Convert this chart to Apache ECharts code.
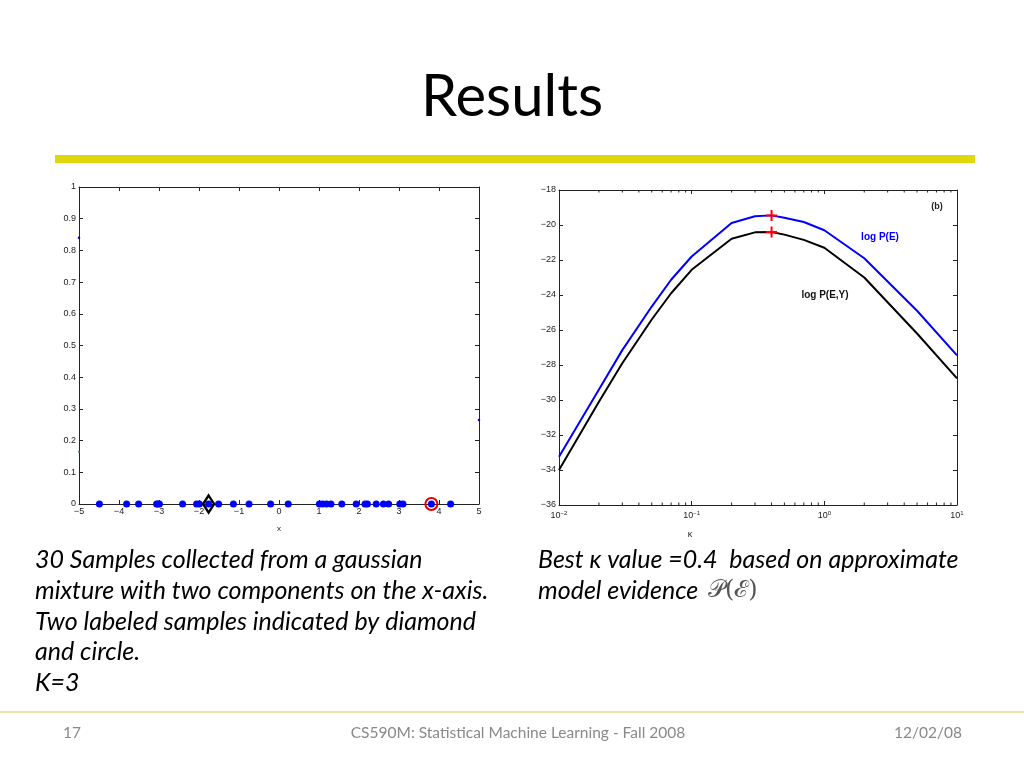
<!DOCTYPE html>
<html><head><meta charset="utf-8">
<script src="https://cdn.jsdelivr.net/npm/echarts@6/dist/echarts.min.js"></script>
<style>html,body{margin:0;padding:0;background:#fff}#c{width:1024px;height:768px}</style>
</head><body><div id="c"></div>
<script>
// ---- data ----
const sampleX = [-4.49,-3.81,-3.51,-3.06,-3.03,-2.99,-2.41,-2.06,-1.99,-1.76,-1.51,-1.14,-0.75,-0.21,0.23,1.01,1.09,1.19,1.30,1.57,1.93,2.15,2.21,2.43,2.61,2.74,3.02,3.10,3.81,4.29];
const diamondX = [-1.76];
const circleX = [3.81];
const residueBlue = [[-5,0.84],[5,0.265]];
const residueGreen = [[-5,0.165]];
const kappa = [0.01,0.02,0.03,0.05,0.07,0.1,0.2,0.3,0.4,0.5,0.7,1,2,5,10];
const logPE  = [-33.24,-29.4,-27.15,-24.66,-23.13,-21.80,-19.89,-19.5,-19.45,-19.58,-19.83,-20.3,-21.9,-24.9,-27.45];
const logPEY = [-34.0,-30.1,-27.9,-25.4,-23.9,-22.56,-20.79,-20.42,-20.4,-20.55,-20.85,-21.3,-23.0,-26.2,-28.76];
const bestKappa = [0.4];
const bestPE = [-19.45];
const bestPEY = [-20.4];
const minorKappa = [0.02,0.03,0.04,0.05,0.06,0.07,0.08,0.09,0.2,0.3,0.4,0.5,0.6,0.7,0.8,0.9,2,3,4,5,6,7,8,9];
const bodyLeft = ['30 Samples collected from a gaussian','mixture with two components on the x-axis.','Two labeled samples indicated by diamond','and circle.','K=3'];
const bodyRight = ['Best \u03ba value =0.4  based on approximate','model evidence '];

// ---- helpers ----
const minus = v => (v < 0 ? '\u2212' + String(Math.abs(+v.toFixed(6))) : String(+v.toFixed(6)));
const lblFont = {color:'#222', fontSize:9, fontFamily:'Liberation Sans'};
const lineCol = '#222';
const chart = echarts.init(document.getElementById('c'));

function boxAxis(base, gridIndex, pos, showLabel, extra) {
  return Object.assign({
    gridIndex, position: pos,
    axisLine:{show:true, onZero:false, lineStyle:{color:lineCol, width:1}},
    axisTick:{show:true, inside:true, length:4, lineStyle:{color:lineCol}},
    splitLine:{show:false},
    axisLabel: showLabel ? Object.assign({formatter: minus, margin:3}, lblFont) : {show:false}
  }, base, extra || {});
}

const option = {
  backgroundColor:'#fff',
  animation:false,
  grid:[
    {left:79, top:187, width:400, height:317},
    {left:559, top:190, width:398, height:315}
  ],
  xAxis:[
    boxAxis({type:'value', min:-5, max:5, interval:1}, 0, 'bottom', true),
    boxAxis({type:'value', min:-5, max:5, interval:1}, 0, 'top', false),
    boxAxis({type:'log', min:0.01, max:10, logBase:10}, 1, 'bottom', true, {
      axisLabel:Object.assign({margin:5, formatter: v => '{b|10}{s|' + minus(Math.round(Math.log10(v))) + '}',
        rich:{b:{fontSize:9, fontFamily:'Liberation Sans', color:'#222'}, s:{fontSize:6, fontFamily:'Liberation Sans', color:'#222', verticalAlign:'top', padding:[0,0,6,0]}}}, lblFont)
    }),
    boxAxis({type:'log', min:0.01, max:10, logBase:10}, 1, 'top', false)
  ],
  yAxis:[
    boxAxis({type:'value', min:0, max:1, interval:0.1}, 0, 'left', true),
    boxAxis({type:'value', min:0, max:1, interval:0.1}, 0, 'right', false),
    boxAxis({type:'value', min:-36, max:-18, interval:2}, 1, 'left', true),
    boxAxis({type:'value', min:-36, max:-18, interval:2}, 1, 'right', false)
  ],
  series:[
    {type:'scatter', xAxisIndex:0, yAxisIndex:0, symbol:'circle', symbolSize:7,
     itemStyle:{color:'#0000ff', opacity:1}, data: sampleX.map(x => [x, 0]), z:3},
    {type:'scatter', xAxisIndex:0, yAxisIndex:0, symbol:'diamond', symbolSize:[11,17],
     itemStyle:{color:'rgba(0,0,0,0)', borderColor:'#000', borderWidth:2.5, opacity:1}, data: diamondX.map(x => [x, 0]), z:4},
    {type:'scatter', xAxisIndex:0, yAxisIndex:0, symbol:'circle', symbolSize:12,
     itemStyle:{color:'rgba(0,0,0,0)', borderColor:'#e00000', borderWidth:2, opacity:1}, data: circleX.map(x => [x, 0]), z:4},
    {type:'scatter', xAxisIndex:0, yAxisIndex:0, symbol:'circle', symbolSize:2.5,
     itemStyle:{color:'#0000cc', opacity:1}, data: residueBlue, z:2},
    {type:'scatter', xAxisIndex:0, yAxisIndex:0, symbol:'circle', symbolSize:2,
     itemStyle:{color:'#2a8a2a', opacity:1}, data: residueGreen, z:2},
    {type:'line', xAxisIndex:2, yAxisIndex:2, data: kappa.map((k,i)=>[k, logPE[i]]),
     showSymbol:false, lineStyle:{color:'#0000ff', width:2}, z:3},
    {type:'line', xAxisIndex:2, yAxisIndex:2, data: kappa.map((k,i)=>[k, logPEY[i]]),
     showSymbol:false, lineStyle:{color:'#000', width:2}, z:3},
    {type:'scatter', xAxisIndex:2, yAxisIndex:2,
     symbol:'path://M4.5,0h2v4.5h4.5v2h-4.5v4.5h-2v-4.5h-4.5v-2h4.5z', symbolSize:11,
     itemStyle:{color:'#ff0000', opacity:1},
     data: bestKappa.map((k,i)=>[k, bestPE[i]]).concat(bestKappa.map((k,i)=>[k, bestPEY[i]])), z:5},
    {type:'custom', xAxisIndex:2, yAxisIndex:2, data: minorKappa.map(k => [k]), silent:true,
     renderItem:(params, api) => {
       const b = api.coord([api.value(0), -36]);
       const t = api.coord([api.value(0), -18]);
       return {type:'group', children:[
         {type:'line', shape:{x1:b[0], y1:b[1], x2:b[0], y2:b[1]-2.5}, style:{stroke:lineCol, lineWidth:1}},
         {type:'line', shape:{x1:t[0], y1:t[1], x2:t[0], y2:t[1]+2.5}, style:{stroke:lineCol, lineWidth:1}}
       ]};
     }}
  ],
  graphic:[
    {type:'text', style:{text:'Results', x:512, y:97, align:'center', verticalAlign:'middle', fontFamily:'Lato', fontSize:58, fill:'#000'}},
    {type:'rect', shape:{x:55, y:155, width:920, height:8}, style:{fill:'#e0d80f'}},
    {type:'text', style:{text:'x', x:279, y:529, align:'center', verticalAlign:'middle', fontFamily:'Liberation Sans', fontSize:8, fill:'#222'}},
    {type:'text', style:{text:'\u03ba', x:690, y:535, align:'center', verticalAlign:'middle', fontFamily:'Liberation Sans', fontSize:9, fill:'#222'}},
    {type:'text', style:{text:'(b)', x:937, y:207, align:'center', verticalAlign:'middle', fontFamily:'Liberation Sans', fontWeight:'bold', fontSize:9, fill:'#222'}},
    {type:'text', style:{text:'log P(E)', x:880, y:237, align:'center', verticalAlign:'middle', fontFamily:'Liberation Sans', fontWeight:'bold', fontSize:10, fill:'#0000ff'}},
    {type:'text', style:{text:'log P(E,Y)', x:825, y:295, align:'center', verticalAlign:'middle', fontFamily:'Liberation Sans', fontWeight:'bold', fontSize:10, fill:'#111'}},
    ...bodyLeft.map((t,i) => ({type:'text', style:{text:t, x:35, y:560 + i*30.8, align:'left', verticalAlign:'middle', fontFamily:'Lato', fontStyle:'italic', fontSize:25, fill:'#000'}})),
    ...bodyRight.map((t,i) => ({type:'text', style:{text:t, x:538, y:560 + i*30.8, align:'left', verticalAlign:'middle', fontFamily:'Lato', fontStyle:'italic', fontSize:25, fill:'#000'}})),
    {type:'text', style:{text:'\ud835\udcab(\u2130)', x:708, y:591, align:'left', verticalAlign:'middle', fontFamily:'DejaVu Serif', fontSize:24, fill:'#555'}},
    {type:'rect', shape:{x:0, y:711, width:1024, height:2}, style:{fill:'#ebe6a6'}},
    {type:'text', style:{text:'17', x:63, y:733, align:'left', verticalAlign:'middle', fontFamily:'Lato', fontSize:15.5, fill:'#898989'}},
    {type:'text', style:{text:'CS590M: Statistical Machine Learning - Fall 2008', x:518, y:733, align:'center', verticalAlign:'middle', fontFamily:'Lato', fontSize:15.5, fill:'#898989'}},
    {type:'text', style:{text:'12/02/08', x:962, y:733, align:'right', verticalAlign:'middle', fontFamily:'Lato', fontSize:15.5, fill:'#898989'}}
  ]
};
chart.setOption(option);
</script></body></html>
